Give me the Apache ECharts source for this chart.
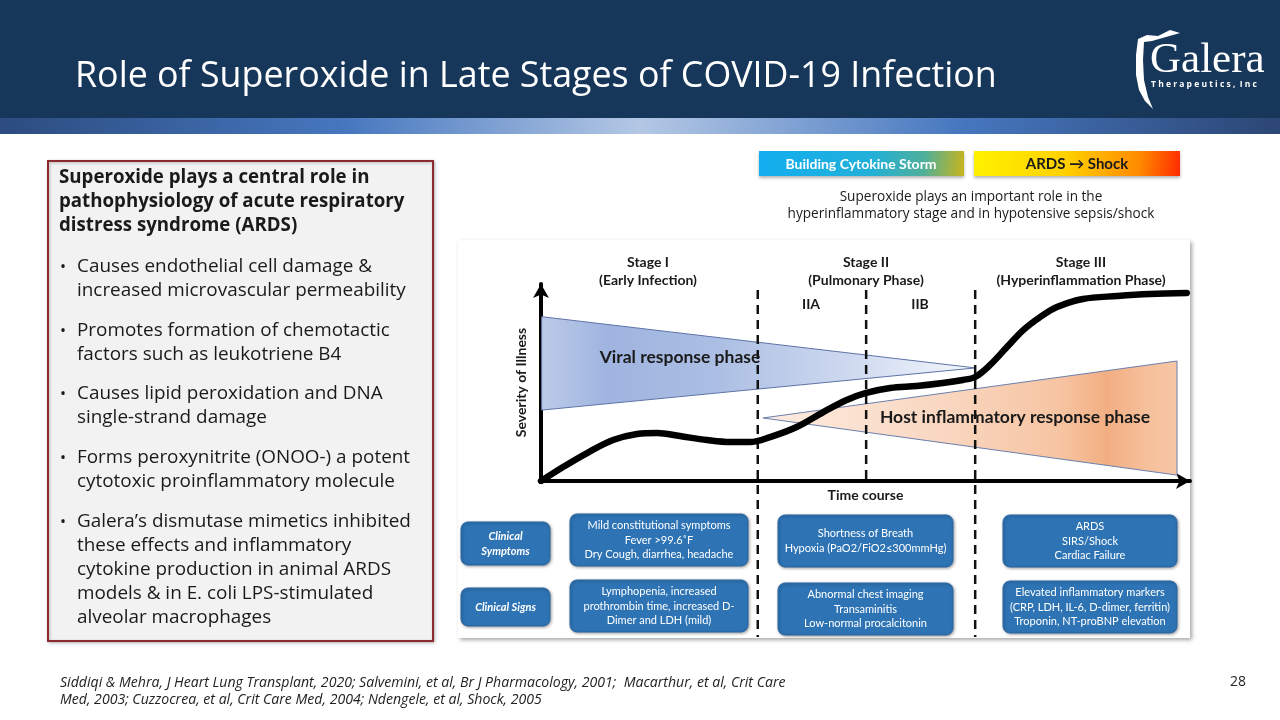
<!DOCTYPE html>
<html><head><meta charset="utf-8">
<script src="https://cdn.jsdelivr.net/npm/echarts@6/dist/echarts.min.js"></script>
<style>html,body{margin:0;padding:0;background:#fff}#c{width:1280px;height:720px}</style>
</head><body><div id="c"></div>
<script>
// ---------- DATA ----------
const timeX    = [0, 3.4, 7.1, 11.1, 14.8, 17.9, 21.4, 25.6, 29.1, 32.2, 35.3, 39.4, 43.5, 47.1, 50.1, 53.8, 57.9, 61.9, 65.0, 66.9, 69.2, 71.8, 74.3, 76.9, 79.5, 83.5, 88.8, 93.8, 99.5];
const severity = [0, 7.1, 14.2, 20.8, 23.9, 24.4, 22.8, 20.8, 19.8, 19.8, 22.3, 27.4, 35.0, 41.1, 44.7, 47.2, 48.2, 49.7, 51.3, 52.8, 58.9, 68.0, 76.6, 83.2, 88.3, 92.4, 93.9, 94.9, 95.4];
const viralPhase = [[0.1, 83.4], [0.1, 36.0], [66.9, 57.4]];
const hostPhase  = [[34.2, 32.0], [98.0, 60.9], [98.0, 3.0]];
const stageDividerX      = [33.4, 50.1, 66.9];
const stageDividerBottom = [0, 0.45, 0];
const stageTitles    = ['Stage I', 'Stage II', 'Stage III'];
const stageSubtitles = ['(Early Infection)', '(Pulmonary Phase)', '(Hyperinflammation Phase)'];
const subStageLabels = ['IIA', 'IIB'];
const rowLabels = ['Clinical\nSymptoms', 'Clinical Signs'];
const clinicalSymptoms = [
  'Mild constitutional symptoms\nFever >99.6˚F\nDry Cough, diarrhea, headache',
  'Shortness of Breath\nHypoxia (PaO2/FiO2≤300mmHg)',
  'ARDS\nSIRS/Shock\nCardiac Failure'
];
const clinicalSigns = [
  'Lymphopenia, increased\nprothrombin time, increased D-\nDimer and LDH (mild)',
  'Abnormal chest imaging\nTransaminitis\nLow-normal procalcitonin',
  'Elevated inflammatory markers\n(CRP, LDH, IL-6, D-dimer, ferritin)\nTroponin, NT-proBNP elevation'
];
const bulletHeading = 'Superoxide plays a central role in\npathophysiology of acute respiratory\ndistress syndrome (ARDS)';
const bullets = [
  'Causes endothelial cell damage &\nincreased microvascular permeability',
  'Promotes formation of chemotactic\nfactors such as leukotriene B4',
  'Causes lipid peroxidation and DNA\nsingle-strand damage',
  'Forms peroxynitrite (ONOO-) a potent\ncytotoxic proinflammatory molecule',
  'Galera\u2019s dismutase mimetics inhibited\nthese effects and inflammatory\ncytokine production in animal ARDS\nmodels & in E. coli LPS-stimulated\nalveolar macrophages'
];
const phaseBanners = ['Building Cytokine Storm', 'ARDS \u2192 Shock'];
const bannerNote = 'Superoxide plays an important role in the\nhyperinflammatory stage and in hypotensive sepsis/shock';
const slideTitle = 'Role of Superoxide in Late Stages of COVID-19 Infection';
const footnote = 'Siddiqi & Mehra, J Heart Lung Transplant, 2020; Salvemini, et al, Br J Pharmacology, 2001;  Macarthur, et al, Crit Care\nMed, 2003; Cuzzocrea, et al, Crit Care Med, 2004; Ndengele, et al, Shock, 2005';
const pageNumber = '28';

// ---------- RENDER ----------
const chart = echarts.init(document.getElementById('c'));
const SEG = '"Open Sans", "Noto Sans", sans-serif';
const CAL = 'Lato, "Open Sans", sans-serif';
const LG = echarts.graphic.LinearGradient;

function txt(x, y, text, o) {
  o = o || {};
  return { type: 'text', x: x, y: y, z: o.z || 100, style: {
    text: text, fill: o.fill || '#1a1a1a',
    font: (o.style || 'normal') + ' ' + (o.weight || 'normal') + ' ' + (o.size || 14) + 'px ' + (o.family || CAL),
    align: o.align || 'center', verticalAlign: o.va || 'middle', lineHeight: o.lh || undefined
  }};
}
function box(x, y, w, h, text, o) {
  o = o || {};
  return [
    { type: 'rect', z: 50, shape: { x: x, y: y, width: w, height: h, r: 7 },
      style: { fill: '#2e74b5', stroke: '#2a66a3', lineWidth: 1, shadowBlur: 3, shadowColor: 'rgba(0,0,0,0.35)', shadowOffsetX: 1, shadowOffsetY: 1 } },
    txt(x + w / 2, y + h / 2 + (o.dy || 0), text, { fill: '#fff', size: o.size || 11, lh: o.lh || 14.5, weight: o.weight, style: o.style, z: 60 })
  ];
}

const graphics = [];
// header
graphics.push({ type: 'rect', z: 1, shape: { x: 0, y: 0, width: 1280, height: 118 }, style: { fill: '#17375a' } });
graphics.push({ type: 'rect', z: 1, shape: { x: 0, y: 118, width: 1280, height: 16 },
  style: { fill: new LG(0, 0, 1, 0, [
    { offset: 0, color: '#2c4c80' }, { offset: 0.27, color: '#4677bf' }, { offset: 0.5, color: '#b4c8e5' },
    { offset: 0.75, color: '#4677bf' }, { offset: 1, color: '#2c4675' }]) } });
graphics.push(txt(75, 77, slideTitle, { fill: '#fff', size: 35.8, family: SEG, align: 'left' }));
// logo
graphics.push({ type: 'polygon', z: 10, shape: { points: [[1180,33],[1170,30],[1158,36],[1147,35],[1138,39],[1136,55],[1136,75],[1139,90],[1145,101],[1153,109],[1148,97],[1144,80],[1143,60],[1144,42],[1152,41],[1166,37]] }, style: { fill: '#fff' } });
graphics.push(txt(1150, 61, 'Galera', { fill: '#fff', size: 43, family: '"Liberation Serif", "DejaVu Serif", serif', align: 'left' }));
graphics.push(txt(1151, 85, 'T h e r a p e u t i c s ,  I n c', { fill: '#fff', size: 8.5, weight: 'bold', family: SEG, align: 'left' }));

// left text box
graphics.push({ type: 'rect', z: 2, shape: { x: 48, y: 161, width: 385, height: 480 },
  style: { fill: '#f2f2f2', stroke: '#8c2a2f', lineWidth: 2, shadowBlur: 3, shadowColor: 'rgba(0,0,0,0.25)', shadowOffsetX: 1, shadowOffsetY: 1 } });
graphics.push(txt(59, 166, bulletHeading, { size: 18.7, weight: 'bold', family: SEG, align: 'left', va: 'top', lh: 24 }));
const bulletTops = [255, 319, 382, 446, 510];
bullets.forEach(function (b, i) {
  graphics.push(txt(60, bulletTops[i], '\u2022', { size: 16, family: SEG, align: 'left', va: 'top', lh: 24 }));
  graphics.push(txt(77, bulletTops[i], b, { size: 18.9, family: SEG, align: 'left', va: 'top', lh: 24 }));
});

// banners
graphics.push({ type: 'rect', z: 3, shape: { x: 759, y: 151, width: 205, height: 25 },
  style: { fill: new LG(0, 0, 1, 1, [{ offset: 0, color: '#12aef0' }, { offset: 0.55, color: '#22b0d8' }, { offset: 0.8, color: '#4fb09a' }, { offset: 1, color: '#c9b41a' }]),
    shadowBlur: 3, shadowColor: 'rgba(0,0,0,0.3)', shadowOffsetY: 2 } });
graphics.push(txt(861, 164, phaseBanners[0], { fill: '#fff', size: 14, weight: 'bold' }));
graphics.push({ type: 'rect', z: 3, shape: { x: 974, y: 151, width: 206, height: 25 },
  style: { fill: new LG(0, 0, 1, 1, [{ offset: 0, color: '#fff200' }, { offset: 0.45, color: '#ffd000' }, { offset: 0.8, color: '#ff8a00' }, { offset: 1, color: '#ff2a00' }]),
    shadowBlur: 3, shadowColor: 'rgba(0,0,0,0.3)', shadowOffsetY: 2 } });
graphics.push(txt(1077, 164, phaseBanners[1], { fill: '#1a1a1a', size: 15, weight: 'bold' }));
graphics.push(txt(971, 206, bannerNote, { size: 13.6, family: SEG, lh: 17 }));

// chart panel
graphics.push({ type: 'rect', z: -1, shape: { x: 458, y: 240, width: 732, height: 398 },
  style: { fill: '#fff', shadowBlur: 4, shadowColor: 'rgba(0,0,0,0.35)', shadowOffsetX: 2, shadowOffsetY: 2 } });

// stage headers
const stageCx = [648, 866, 1081];
stageTitles.forEach(function (s, i) {
  graphics.push(txt(stageCx[i], 271, s + '\n' + stageSubtitles[i], { size: 14, weight: 'bold', lh: 18 }));
});
graphics.push(txt(811, 304, subStageLabels[0], { size: 14, weight: 'bold' }));
graphics.push(txt(920, 304, subStageLabels[1], { size: 14, weight: 'bold' }));
graphics.push(txt(680, 357, 'Viral response phase', { size: 17.5, weight: 'bold' }));
graphics.push(txt(1015, 417, 'Host inflammatory response phase', { size: 17.5, weight: 'bold' }));

// clinical boxes
box(461, 522, 89, 43, rowLabels[0], { style: 'italic', weight: 'bold', lh: 15, size: 11 }).forEach(g => graphics.push(g));
box(461, 588, 89, 38, rowLabels[1], { style: 'italic', weight: 'bold', size: 11 }).forEach(g => graphics.push(g));
const colX = [570, 778, 1003], colW = [178, 175, 174];
const symY = [514, 515, 515], sigY = [580, 583, 581];
clinicalSymptoms.forEach(function (s, i) { box(colX[i], symY[i], colW[i], 52, s).forEach(g => graphics.push(g)); });
clinicalSigns.forEach(function (s, i) { box(colX[i], sigY[i], colW[i], 52, s).forEach(g => graphics.push(g)); });

// footer
graphics.push(txt(60, 674, footnote, { size: 14.1, style: 'italic', family: SEG, align: 'left', va: 'top', lh: 17, fill: '#222' }));
graphics.push(txt(1246, 682, pageNumber, { size: 14, family: SEG, align: 'right', fill: '#222' }));

function triangle(points, fill, stroke) {
  return {
    type: 'custom', xAxisIndex: 0, yAxisIndex: 0, z: 1, silent: true, data: [0],
    renderItem: function (params, api) {
      return { type: 'polygon', shape: { points: points.map(p => api.coord(p)) },
        style: { fill: fill, stroke: stroke, lineWidth: 1 } };
    }
  };
}

const axisCommon = {
  type: 'value', min: 0, max: 100, splitLine: { show: false }, axisTick: { show: false }, axisLabel: { show: false },
  axisLine: { show: true, symbol: ['none', 'arrow'], symbolSize: [12, 14], lineStyle: { color: '#000', width: 4 } },
  nameTextStyle: { fontFamily: CAL, fontWeight: 'bold', fontSize: 14, color: '#1a1a1a' }
};

const series = [
  triangle(viralPhase, new LG(0, 0, 1, 0, [
    { offset: 0, color: '#bccbe8' }, { offset: 0.15, color: '#9fb4df' }, { offset: 0.4, color: '#abbee3' },
    { offset: 0.75, color: '#d3ddf1' }, { offset: 1, color: '#f5f8fd' }]), '#5d74a8'),
  triangle(hostPhase, new LG(0, 0, 1, 0, [
    { offset: 0, color: '#fdece1' }, { offset: 0.45, color: '#f9d6bf' }, { offset: 0.72, color: '#f6c4a2' },
    { offset: 0.83, color: '#f2ae82' }, { offset: 0.92, color: '#f5bf9a' }, { offset: 1, color: '#f7c6a6' }]), '#6b7fae'),
  {
    type: 'line', xAxisIndex: 0, yAxisIndex: 0, z: 5, smooth: 0.35, symbol: 'none', silent: true,
    data: timeX.map((x, i) => [x, severity[i]]),
    lineStyle: { color: '#000', width: 6.5, cap: 'round' }
  }
];
stageDividerX.forEach(function (x, i) {
  series.push({
    type: 'line', xAxisIndex: 1, yAxisIndex: 1, z: 2, symbol: 'none', silent: true,
    data: [[x, 1], [x, stageDividerBottom[i]]],
    lineStyle: { color: '#111', width: 2.5, type: [9, 6] }
  });
});

chart.setOption({
  animation: false,
  backgroundColor: '#fff',
  grid: [
    { left: 541, right: 90, top: 284, bottom: 239 },
    { left: 541, right: 90, top: 290, bottom: 83 }
  ],
  xAxis: [
    Object.assign({}, axisCommon, { gridIndex: 0, name: 'Time course', nameLocation: 'middle', nameGap: 7 }),
    { gridIndex: 1, type: 'value', min: 0, max: 100, show: false }
  ],
  yAxis: [
    Object.assign({}, axisCommon, { gridIndex: 0, name: 'Severity of Illness', nameLocation: 'middle', nameGap: 13 }),
    { gridIndex: 1, type: 'value', min: 0, max: 1, show: false }
  ],
  series: series,
  graphic: { elements: graphics }
});
</script></body></html>
